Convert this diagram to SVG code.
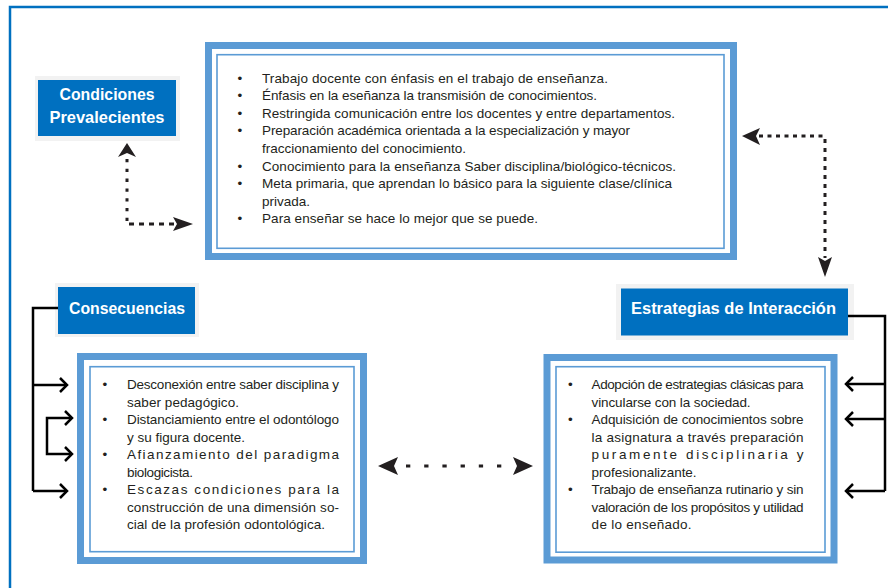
<svg xmlns="http://www.w3.org/2000/svg" width="888" height="588" viewBox="0 0 888 588">
<style>
.frame{fill:none;stroke:#0070C0;stroke-width:2.5}
.band{fill:#fff;stroke:#5B9BD5;stroke-width:7}
.thin{fill:none;stroke:#5B9BD5;stroke-width:1.6}
.lblbg{fill:#F2F2F2}
.lbl{fill:#0070C0}
.lt{font-family:"Liberation Sans",Arial,sans-serif;font-weight:bold;font-size:16.5px;fill:#fff;text-anchor:middle}
.bt{font-family:"Liberation Sans",Arial,sans-serif;font-size:13.5px;fill:#231F20}
.dot{fill:none;stroke:#231F20;stroke-width:3}
.ah{fill:#231F20}
.br{fill:none;stroke:#000;stroke-width:2.5}
</style>
<rect class="frame" x="10" y="7" width="900" height="600"/>

<g id="condiciones">
<rect class="lblbg" x="35" y="76" width="145" height="65"/>
<rect class="lbl" x="38" y="80" width="138" height="56"/>
<text class="lt" x="107" y="100" textLength="95" lengthAdjust="spacingAndGlyphs">Condiciones</text>
<text class="lt" x="107" y="122.5" textLength="115" lengthAdjust="spacingAndGlyphs">Prevalecientes</text>
</g>

<g id="top-box">
<rect class="band" x="208.5" y="45.5" width="525" height="211"/>
<rect class="thin" x="217" y="54.7" width="507" height="193.6"/>
<g class="bt">
<text x="237.5" y="82.5">•</text><text x="262" y="82.5" textLength="346" lengthAdjust="spacing">Trabajo docente con énfasis en el trabajo de enseñanza.</text>
<text x="237.5" y="100.1">•</text><text x="262" y="100.1" textLength="335" lengthAdjust="spacing">Énfasis en la eseñanza la transmisión de conocimientos.</text>
<text x="237.5" y="117.7">•</text><text x="262" y="117.7" textLength="413" lengthAdjust="spacing">Restringida comunicación entre los docentes y entre departamentos.</text>
<text x="237.5" y="135.3">•</text><text x="262" y="135.3" textLength="368" lengthAdjust="spacing">Preparación académica orientada a la especialización y mayor</text>
<text x="262" y="152.9">fraccionamiento del conocimiento.</text>
<text x="237.5" y="170.5">•</text><text x="262" y="170.5" textLength="414" lengthAdjust="spacing">Conocimiento para la enseñanza Saber disciplina/biológico-técnicos.</text>
<text x="237.5" y="188.1">•</text><text x="262" y="188.1" textLength="410" lengthAdjust="spacing">Meta primaria, que aprendan lo básico para la siguiente clase/clínica</text>
<text x="262" y="205.7">privada.</text>
<text x="237.5" y="223.3">•</text><text x="262" y="223.3" textLength="276" lengthAdjust="spacing">Para enseñar se hace lo mejor que se puede.</text>
</g>
</g>

<g id="consecuencias">
<rect class="lblbg" x="55" y="283" width="144" height="54"/>
<rect class="lbl" x="58" y="287" width="137" height="47"/>
<text class="lt" x="127" y="313.7" textLength="116" lengthAdjust="spacingAndGlyphs">Consecuencias</text>
</g>

<g id="estrategias">
<rect class="lblbg" x="616" y="284" width="238" height="56"/>
<rect class="lbl" x="621" y="288.5" width="227" height="47"/>
<text class="lt" x="733.5" y="313.5" textLength="205" lengthAdjust="spacingAndGlyphs">Estrategias de Interacción</text>
</g>

<g id="left-box">
<rect class="band" x="80.5" y="356.5" width="283" height="204"/>
<rect class="thin" x="90" y="366.7" width="264" height="185"/>
<g class="bt">
<text x="102.6" y="389">•</text><text x="127" y="389" textLength="212" lengthAdjust="spacing">Desconexión entre saber disciplina y</text>
<text x="127" y="406.5" textLength="112" lengthAdjust="spacing">saber pedagógico.</text>
<text x="102.6" y="424.1">•</text><text x="127" y="424.1" textLength="212" lengthAdjust="spacing">Distanciamiento entre el odontólogo</text>
<text x="127" y="441.6" textLength="118" lengthAdjust="spacing">y su figura docente.</text>
<text x="102.6" y="459.2">•</text><text x="127" y="459.2" textLength="212" lengthAdjust="spacing">Afianzamiento del paradigma</text>
<text x="127" y="476.7" textLength="66" lengthAdjust="spacing">biologicista.</text>
<text x="102.6" y="494.2">•</text><text x="127" y="494.2" textLength="212" lengthAdjust="spacing">Escazas condiciones para la</text>
<text x="127" y="511.8" textLength="212" lengthAdjust="spacing">construcción de una dimensión so-</text>
<text x="127" y="529.3" textLength="198" lengthAdjust="spacing">cial de la profesión odontológica.</text>
</g>
</g>

<g id="right-box">
<rect class="band" x="547" y="357.5" width="287" height="202.5"/>
<rect class="thin" x="556" y="366.7" width="269" height="185.5"/>
<g class="bt">
<text x="568" y="389">•</text><text x="591.6" y="389" textLength="212" lengthAdjust="spacing">Adopción de estrategias clásicas para</text>
<text x="591.6" y="406.5" textLength="159" lengthAdjust="spacing">vincularse con la sociedad.</text>
<text x="568" y="424.1">•</text><text x="591.6" y="424.1" textLength="212" lengthAdjust="spacing">Adquisición de conocimientos sobre</text>
<text x="591.6" y="441.6" textLength="212" lengthAdjust="spacing">la asignatura a través preparación</text>
<text x="591.6" y="459.2" textLength="212" lengthAdjust="spacing">puramente disciplinaria y</text>
<text x="591.6" y="476.7" textLength="105" lengthAdjust="spacing">profesionalizante.</text>
<text x="568" y="494.2">•</text><text x="591.6" y="494.2" textLength="212" lengthAdjust="spacing">Trabajo de enseñanza rutinario y sin</text>
<text x="591.6" y="511.8" textLength="212" lengthAdjust="spacing">valoración de los propósitos y utilidad</text>
<text x="591.6" y="529.3" textLength="100" lengthAdjust="spacing">de lo enseñado.</text>
</g>
</g>

<g id="connectors">
<path class="dot" d="M127,159 V224" stroke-dasharray="3.3 6.5"/>
<path class="dot" d="M129,224 H174" stroke-dasharray="5 5"/>
<path class="ah" d="M127,143 L136,157 L127,153 L118,157 Z"/>
<path class="ah" d="M193,224 L173,217 L177,224 L173,231 Z"/>

<path class="dot" d="M759,136 H825" stroke-dasharray="4 4.5"/>
<path class="dot" d="M825,139 V258" stroke-dasharray="4 5"/>
<path class="ah" d="M742,136 L760,128 L756,136 L760,145 Z"/>
<path class="ah" d="M825,277 L818,257 L825,261 L832,257 Z"/>

<path class="dot" d="M406,466 H502" stroke-dasharray="4.3 13.9"/>
<path class="ah" d="M378,466 L398,457 L394,466 L398,475 Z"/>
<path class="ah" d="M533,466 L513,457 L517,466 L513,475 Z"/>

<path class="br" d="M58,308 H33 V491 M33,385 H66 M33,491 H66 M71,418 H47 V454 H71"/>
<path class="br" d="M60,378 L67,385 L60,392 M60,484 L67,491 L60,498 M65,411 L72,418 L65,425 M65,447 L72,454 L65,461"/>
<path class="br" d="M848,316 H885 V491 M885,384 H846 M885,419 H846 M885,491 H846"/>
<path class="br" d="M853,377 L846,384 L853,391 M853,412 L846,419 L853,426 M853,484 L846,491 L853,498"/>
</g>
</svg>
